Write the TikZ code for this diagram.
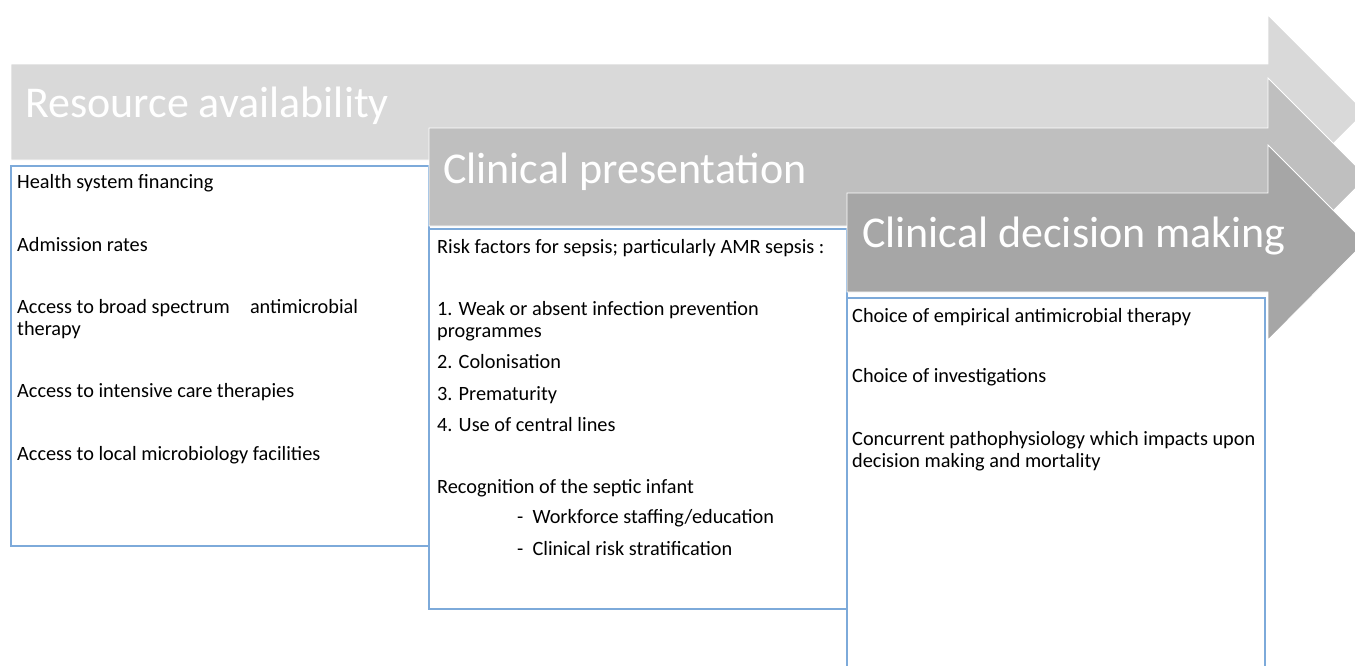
\documentclass[tikz,border=0pt]{standalone}
\usepackage{fontspec}
\setmainfont{Carlito}
\definecolor{arrowA}{HTML}{D9D9D9}
\definecolor{arrowB}{HTML}{BFBFBF}
\definecolor{arrowC}{HTML}{A6A6A6}
\definecolor{boxline}{RGB}{125,170,218}

\begin{document}
\begin{tikzpicture}[x=1pt,y=-1pt,
    band/.style={draw=white, line width=0.8pt},
    heading/.style={anchor=base west, inner sep=0pt, text=white, font=\fontsize{44}{53}\selectfont},
    infobox/.style={draw=boxline, line width=1.3pt},
    item/.style={anchor=base west, inner sep=0pt, align=left, font=\fontsize{20.3}{22}\selectfont}]
    \useasboundingbox (0,0) rectangle (1355,665);
    \clip (0,0) rectangle (1355,665);

    \fill[arrowA, band] (11,64) -- (1268,64) -- (1268,15) -- (1365,112) -- (1268,209) -- (1268,160) -- (11,160) -- cycle;
    \node[heading] (resource) at (25,117) {Resource availability};
    \draw[infobox] (11,166) rectangle (429,546);
    \node[item] (financing) at (17,188) {Health system financing};
    \node[item] (admission) at (17,251) {Admission rates};
    \node[item] (broad) at (17,335) {Access to broad spectrum\hspace{1em}antimicrobial\\therapy};
    \node[item] (intensive) at (17,397) {Access to intensive care therapies};
    \node[item] (microbio) at (17,460) {Access to local microbiology facilities};

    \fill[arrowB, band] (429,128) -- (1268,128) -- (1268,78) -- (1367,177) -- (1268,276) -- (1268,226) -- (429,226) -- cycle;
    \node[heading] (presentation) at (443,183) {Clinical presentation};
    \draw[infobox] (429,229) rectangle (847,609);
    \node[item] (risk) at (437,253) {Risk factors for sepsis; particularly AMR sepsis :};
    \node[item] (weak) at (437,337) {1. Weak or absent infection prevention\\programmes};
    \node[item] (colon) at (437,368) {2. Colonisation};
    \node[item] (prem) at (437,400) {3. Prematurity};
    \node[item] (lines) at (437,431) {4. Use of central lines};
    \node[item] (recog) at (437,493) {Recognition of the septic infant};
    \node[item] (workforce) at (517,523) {-\hspace{0.45em}Workforce staffing/education};
    \node[item] (strat) at (517,555) {-\hspace{0.45em}Clinical risk stratification};

    \fill[arrowC, band] (847,193) -- (1268,193) -- (1268,145) -- (1365,242) -- (1268,340) -- (1268,292) -- (847,292) -- cycle;
    \node[heading] (decision) at (862,247) {Clinical decision making};
    \draw[infobox] (847,298) rectangle (1265,680);
    \node[item] (empirical) at (852,322) {Choice of empirical antimicrobial therapy};
    \node[item] (investig) at (852,382) {Choice of investigations};
    \node[item] (patho) at (852,467) {Concurrent pathophysiology which impacts upon\\decision making and mortality};
\end{tikzpicture}
\end{document}
